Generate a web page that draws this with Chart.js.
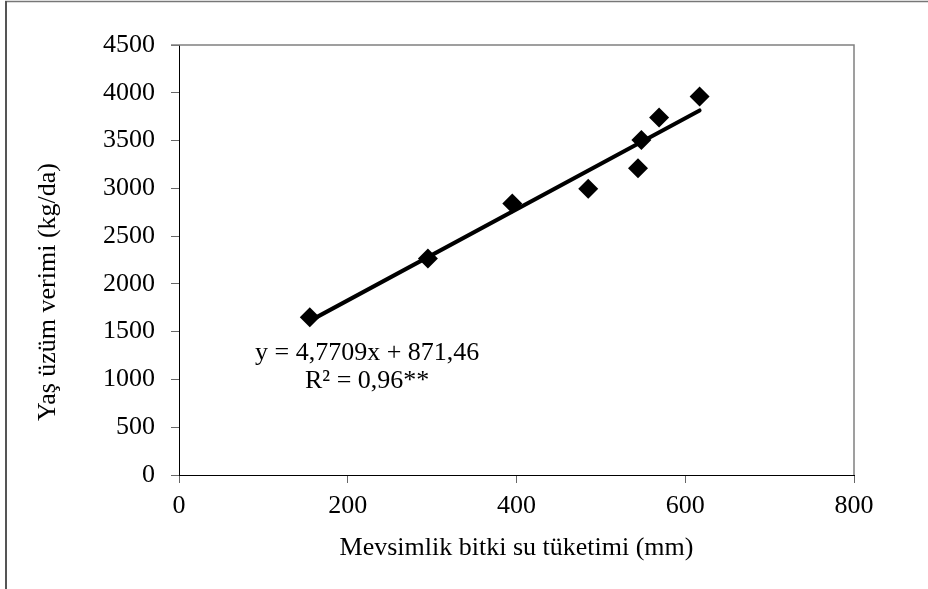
<!DOCTYPE html>
<html>
<head>
<meta charset="utf-8">
<script src="https://cdn.jsdelivr.net/npm/chart.js@4.4.1/dist/chart.umd.min.js"></script>
<style>
  html, body { margin: 0; padding: 0; background: #fff; }
  #wrap { width: 928px; height: 589px; }
</style>
</head>
<body>
<div id="wrap"><canvas id="chart"></canvas></div>
<script>
// seasonal crop water use (mm) vs fresh grape yield (kg/da)
var waterUse = [155, 295, 395, 485, 544, 548, 569, 617];
var grapeYield = [1650, 2265, 2840, 2995, 3210, 3505, 3740, 3960];

// fitted line ends, y = 4,7709x + 871,46
var trendX = [155, 617];
var trendY = [1613, 3815];

var xTicks = [0, 200, 400, 600, 800];
var yTicks = [0, 500, 1000, 1500, 2000, 2500, 3000, 3500, 4000, 4500];

var eqLines = ['y = 4,7709x + 871,46', 'R\u00B2 = 0,96**'];

var serif = "'Liberation Serif', 'Times New Roman', serif";

// outer frame, plot frame, equation and y title
var extras = {
  id: 'extras',
  beforeDraw: function (chart) {
    var ctx = chart.ctx;
    ctx.save();
    ctx.fillStyle = '#fff';
    ctx.fillRect(0, 0, chart.width, chart.height);
    ctx.strokeStyle = '#777';
    ctx.lineWidth = 1.5;
    ctx.beginPath();
    ctx.moveTo(5, 1.5);
    ctx.lineTo(chart.width, 1.5);
    ctx.stroke();
    ctx.strokeStyle = '#555';
    ctx.lineWidth = 2;
    ctx.beginPath();
    ctx.moveTo(6, 1);
    ctx.lineTo(6, chart.height);
    ctx.stroke();
    ctx.restore();
  },
  afterDraw: function (chart) {
    var ctx = chart.ctx, a = chart.chartArea;
    var xs = chart.scales.x, ys = chart.scales.y;
    ctx.save();
    ctx.strokeStyle = '#808080';
    ctx.lineWidth = 1.5;
    ctx.beginPath();
    ctx.moveTo(a.left - 8, a.top);
    ctx.lineTo(a.right, a.top);
    ctx.lineTo(a.right, a.bottom);
    ctx.stroke();

    ctx.fillStyle = '#000';
    ctx.font = '26px ' + serif;
    ctx.textAlign = 'center';
    ctx.textBaseline = 'middle';
    var cx = xs.getPixelForValue(223);
    ctx.fillText(eqLines[0], cx, ys.getPixelForValue(1277));
    ctx.fillText(eqLines[1], cx, ys.getPixelForValue(984));

    ctx.translate(48, (a.top + a.bottom) / 2 + 32);
    ctx.rotate(-Math.PI / 2);
    ctx.fillText('Yaş üzüm verimi (kg/da)', 0, 0);
    ctx.restore();
  }
};

function plain(v) { return String(v); }

var ctx = document.getElementById('chart').getContext('2d');
var chart = new Chart(ctx, {
  type: 'scatter',
  data: {
    datasets: [{
      label: 'Verim',
      data: waterUse.map(function (x, i) { return {x: x, y: grapeYield[i]}; }),
      pointStyle: 'rectRot',
      pointRadius: 10,
      pointHoverRadius: 10,
      backgroundColor: '#000',
      borderColor: '#000',
      borderWidth: 0,
      order: 1
    }, {
      label: 'Trend',
      type: 'line',
      data: trendX.map(function (x, i) { return {x: x, y: trendY[i]}; }),
      borderColor: '#000',
      borderWidth: 4,
      borderCapStyle: 'round',
      pointRadius: 0,
      fill: false,
      order: 0
    }]
  },
  options: {
    responsive: true,
    maintainAspectRatio: false,
    animation: false,
    layout: { padding: { left: 0, top: 45, right: 74, bottom: 0 } },
    plugins: {
      legend: { display: false },
      tooltip: { enabled: false }
    },
    scales: {
      x: {
        type: 'linear',
        min: xTicks[0],
        max: xTicks[xTicks.length - 1],
        afterBuildTicks: function (scale) {
          scale.ticks = xTicks.map(function (v) { return {value: v}; });
        },
        afterFit: function (scale) { scale.height = 114; },
        grid: { drawOnChartArea: false, tickLength: 8, color: '#666', lineWidth: 1 },
        border: { color: '#000', width: 1 },
        ticks: {
          color: '#000',
          padding: 8,
          maxRotation: 0,
          callback: plain,
          font: { family: serif, size: 26 }
        },
        title: {
          display: true,
          text: 'Mevsimlik bitki su tüketimi (mm)',
          color: '#000',
          font: { family: serif, size: 26 },
          padding: { top: 0, bottom: 25 }
        }
      },
      y: {
        type: 'linear',
        min: yTicks[0],
        max: yTicks[yTicks.length - 1],
        afterBuildTicks: function (scale) {
          scale.ticks = yTicks.map(function (v) { return {value: v}; });
        },
        afterFit: function (scale) { scale.width = 179; },
        grid: { drawOnChartArea: false, tickLength: 8, color: '#666', lineWidth: 1 },
        border: { color: '#000', width: 1 },
        ticks: {
          color: '#000',
          padding: 16,
          callback: plain,
          font: { family: serif, size: 26 }
        }
      }
    }
  },
  plugins: [extras]
});
</script>
</body>
</html>
